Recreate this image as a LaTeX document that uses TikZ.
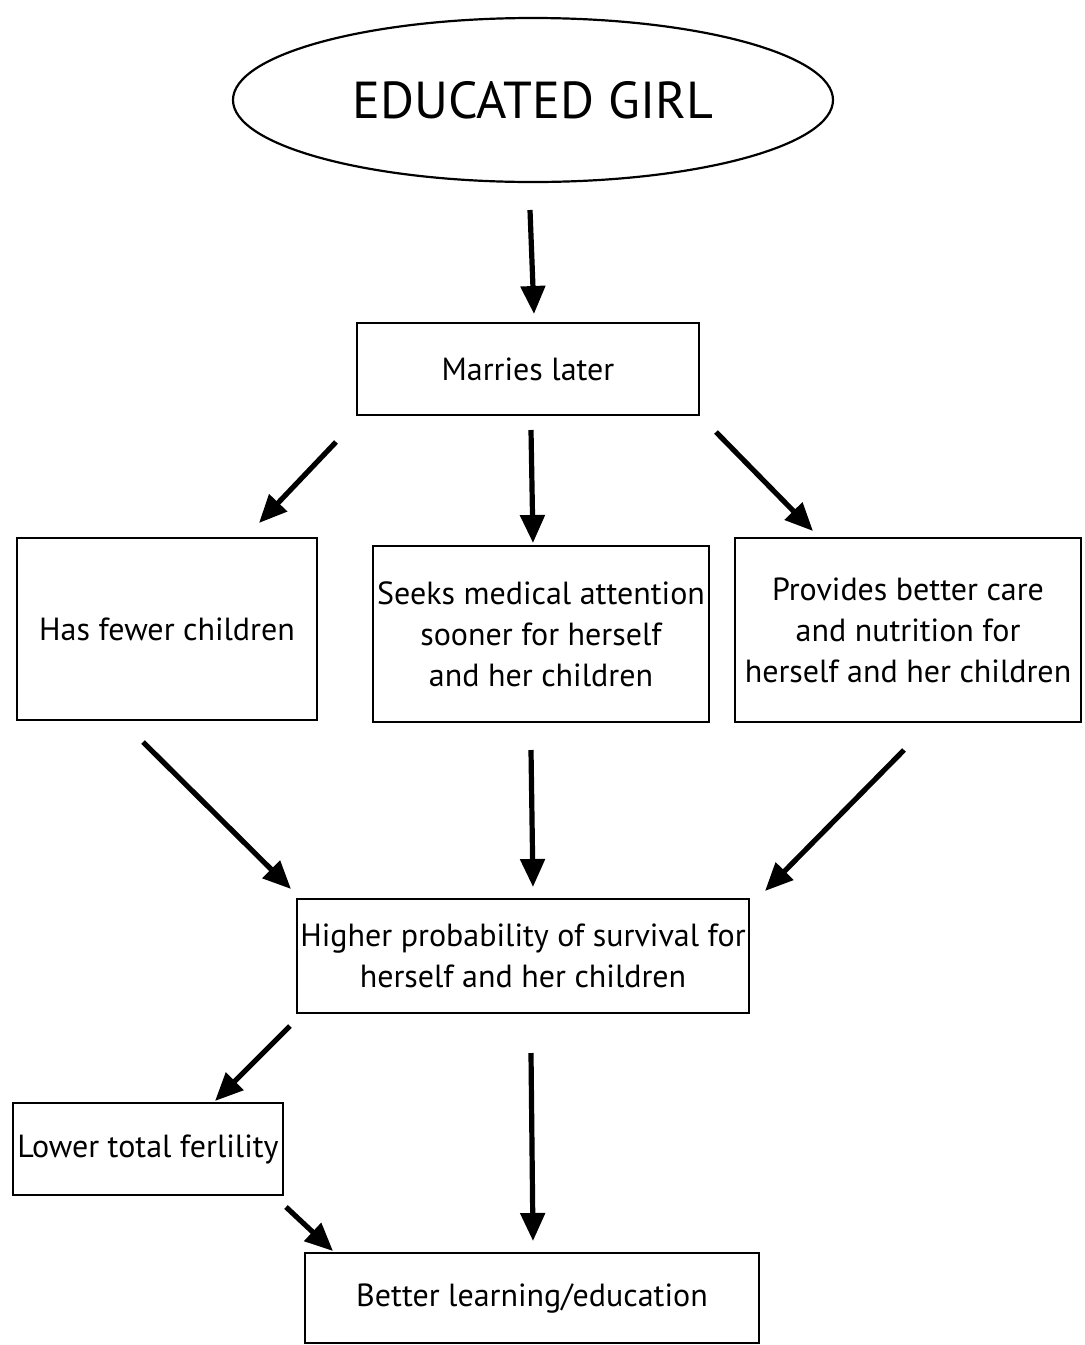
\documentclass[tikz,border=0pt]{standalone}
\usepackage{fontspec}
\setmainfont{PT Sans}
\usetikzlibrary{arrows.meta,shapes.geometric}
\tikzset{
  box/.style={draw,line width=1.1pt,inner sep=0pt,align=center,font=\fontsize{16}{20.5}\selectfont},
  arr/.style={line width=2.6pt,-{Triangle[length=14pt,width=12pt]}},
}
\begin{document}
\begin{tikzpicture}[x=0.5pt,y=-0.5pt]
\useasboundingbox (0,0) rectangle (1084,1345);
\node[ellipse,draw,line width=1.1pt,minimum width=300pt,minimum height=82pt,font=\fontsize{26}{30}\selectfont] (eg) at (533,100) {EDUCATED GIRL};
\node[box,minimum width=171pt,minimum height=46pt] (ml) at (528,369) {Marries later};
\node[box,minimum width=150pt,minimum height=91pt] (hf) at (167,629) {Has fewer children};
\node[box,minimum width=168pt,minimum height=88pt] (sm) at (541,634) {Seeks medical attention\\sooner for herself\\and her children};
\node[box,minimum width=173pt,minimum height=92pt] (pb) at (908,630) {Provides better care\\and nutrition for\\herself and her children};
\node[box,minimum width=226pt,minimum height=57pt] (hp) at (523,956) {Higher probability of survival for\\herself and her children};
\node[box,minimum width=135pt,minimum height=46pt] (lt) at (148,1149) {Lower total ferlility};
\node[box,minimum width=227pt,minimum height=45pt] (bl) at (532,1298) {Better learning/education};
% arrow endpoints
\coordinate (a1s) at (530,210); \coordinate (a1e) at (534,314);
\coordinate (a2s) at (336,442); \coordinate (a2e) at (259,523);
\coordinate (a3s) at (531,430); \coordinate (a3e) at (533,543);
\coordinate (a4s) at (716,432); \coordinate (a4e) at (813,531);
\coordinate (a5s) at (143,742); \coordinate (a5e) at (291,889);
\coordinate (a6s) at (531,750); \coordinate (a6e) at (533,887);
\coordinate (a7s) at (904,750); \coordinate (a7e) at (765,891);
\coordinate (a8s) at (290,1026); \coordinate (a8e) at (215,1101);
\coordinate (a9s) at (531,1053); \coordinate (a9e) at (533,1241);
\coordinate (a10s) at (286,1207); \coordinate (a10e) at (333,1251);
\foreach \i in {1,...,10} {\draw[arr] (a\i s) -- (a\i e);}
\end{tikzpicture}
\end{document}
